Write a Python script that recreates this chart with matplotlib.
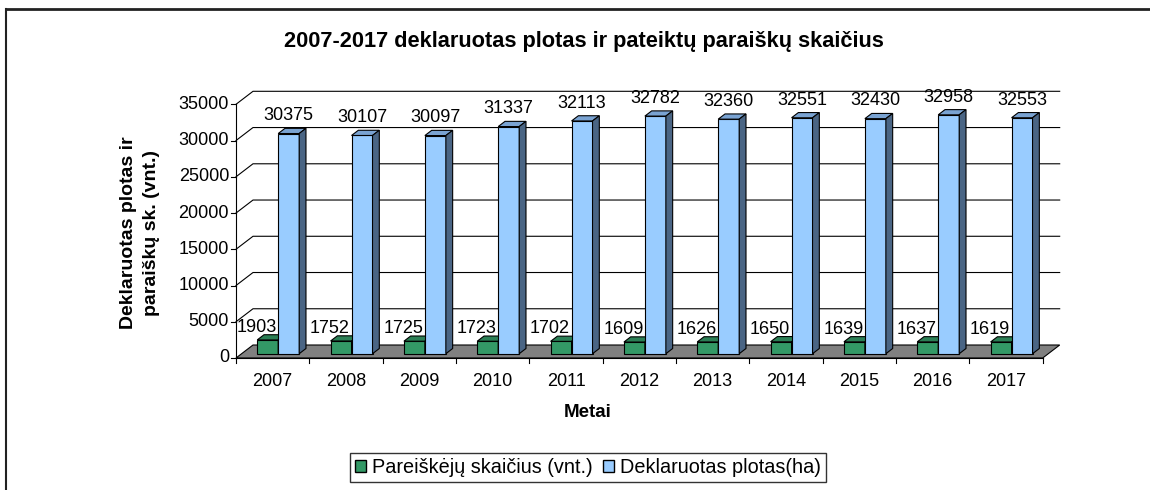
import matplotlib
matplotlib.use("Agg")
import matplotlib.pyplot as plt
from matplotlib.patches import Polygon, Patch
from matplotlib.lines import Line2D

plt.rcParams["font.family"] = ["Liberation Sans", "DejaVu Sans"]

years = ["2007", "2008", "2009", "2010", "2011", "2012",
         "2013", "2014", "2015", "2016", "2017"]
applicants = [1903, 1752, 1725, 1723, 1702, 1609, 1626, 1650, 1639, 1637, 1619]
area = [30375, 30107, 30097, 31337, 32113, 32782, 32360, 32551, 32430, 32958, 32553]
y_ticks = [0, 5000, 10000, 15000, 20000, 25000, 30000, 35000]

title = "2007-2017 deklaruotas plotas ir pateiktų paraiškų skaičius"
ylabel = "Deklaruotas plotas ir\nparaiškų sk. (vnt.)"
xlabel = "Metai"
series_names = ["Pareiškėjų skaičius (vnt.)", "Deklaruotas plotas(ha)"]

# face / top / side colours for the pseudo-3D bars
green = ("#339966", "#2b7f55", "#1f5e3e")
blue = ("#99ccff", "#7aa3d2", "#4a6584")
floor_color = "#808080"

W, H = 1150, 490
fig = plt.figure(figsize=(W / 100, H / 100), dpi=100)
left_px, right_px, zero_px, top_px = 236, 1042.7, 358, 104.3
ax = fig.add_axes([left_px / W, (H - zero_px) / H,
                   (right_px - left_px) / W, (zero_px - top_px) / H])
n = len(years)
ymax = y_ticks[-1]
ax.set_xlim(0, n)
ax.set_ylim(0, ymax)
ax.axis("off")

# data units per pixel
px_x = n / (right_px - left_px)
px_y = ymax / (zero_px - top_px)
DX, DY = 17 * px_x, 13 * px_y   # depth of the chart box
F0, BD = 0.33, 0.40             # bar front position / bar depth (fraction of box)
inset, bw = 0.213, 0.286
lw = 0.8

# floor
ax.add_patch(Polygon([(0, 0), (n, 0), (n + DX, DY), (DX, DY)],
                     closed=True, fc=floor_color, ec="black", lw=lw,
                     clip_on=False, zorder=1))

# gridlines on side and back wall
for v in y_ticks[1:]:
    ax.plot([0, DX, n + DX], [v, v + DY, v + DY], color="black", lw=lw,
            clip_on=False, zorder=0.5)

# value axis
ax.plot([0, 0], [0, ymax], color="black", lw=lw, clip_on=False, zorder=2)
for v in y_ticks:
    ax.plot([-5 * px_x, 0], [v, v], color="black", lw=lw, clip_on=False)
    ax.text(-7 * px_x, v, str(v), ha="right", va="center", fontsize=13)

# category axis
ax.plot([0, n], [0, 0], color="black", lw=lw, clip_on=False, zorder=2)
for k in range(n + 1):
    ax.plot([k, k], [0, -5 * px_y], color="black", lw=lw, clip_on=False)
for i, yr in enumerate(years):
    ax.text(i + 0.5, -15 * px_y, yr, ha="center", va="top", fontsize=13)


def draw_series(values, offset, colors, z, label_dx, label_gap):
    x_left = [i + inset + offset * bw + F0 * DX for i in range(n)]
    base = F0 * DY
    ax.bar(x_left, values, width=bw, bottom=base, align="edge",
           color=colors[0], edgecolor="black", lw=lw, clip_on=False, zorder=z)
    ddx, ddy = BD * DX, BD * DY
    for x0, v in zip(x_left, values):
        x1, top = x0 + bw, base + v
        ax.add_patch(Polygon([(x0, top), (x1, top), (x1 + ddx, top + ddy),
                              (x0 + ddx, top + ddy)], closed=True,
                             fc=colors[1], ec="black", lw=lw,
                             clip_on=False, zorder=z))
        ax.add_patch(Polygon([(x1, base), (x1 + ddx, base + ddy),
                              (x1 + ddx, top + ddy), (x1, top)], closed=True,
                             fc=colors[2], ec="black", lw=lw,
                             clip_on=False, zorder=z))
        ax.text(x0 + bw / 2 + label_dx * px_x, top + ddy + label_gap * px_y,
                str(v), ha="center", va="baseline", fontsize=13, zorder=6,
                clip_on=False)


draw_series(applicants, 0, green, 3, -11, 3)
draw_series(area, 1, blue, 4, 0, 8)

# texts
fig.text(584 / W, 1 - 41 / H, title, ha="center", va="center",
         fontsize=15.7, fontweight="bold")
fig.text(588 / W, 1 - 412 / H, xlabel, ha="center", va="center",
         fontsize=13.5, fontweight="bold")
fig.text(140 / W, 1 - 233 / H, ylabel, ha="center", va="center",
         rotation=90, multialignment="center", fontsize=14, linespacing=1.45,
         fontweight="bold")

leg = fig.legend(handles=[Patch(fc=green[0], ec="black"),
                          Patch(fc=blue[0], ec="black")],
                 labels=series_names, loc="center",
                 bbox_to_anchor=(588 / W, 1 - 467.5 / H), ncol=2,
                 fontsize=14.3, frameon=True, fancybox=False,
                 edgecolor="black", handlelength=0.55, handleheight=0.55,
                 handletextpad=0.3, columnspacing=0.5, borderpad=0.25,
                 borderaxespad=0)
leg.get_frame().set_linewidth(1.0)

# outer chart frame (top and left edges visible)
fig.add_artist(Line2D([6 / W, 1], [1 - 9 / H, 1 - 9 / H], color="#222222", lw=2))
fig.add_artist(Line2D([6 / W, 6 / W], [0, 1 - 9 / H], color="#222222", lw=1.5))

fig.savefig("out.png", dpi=100)
